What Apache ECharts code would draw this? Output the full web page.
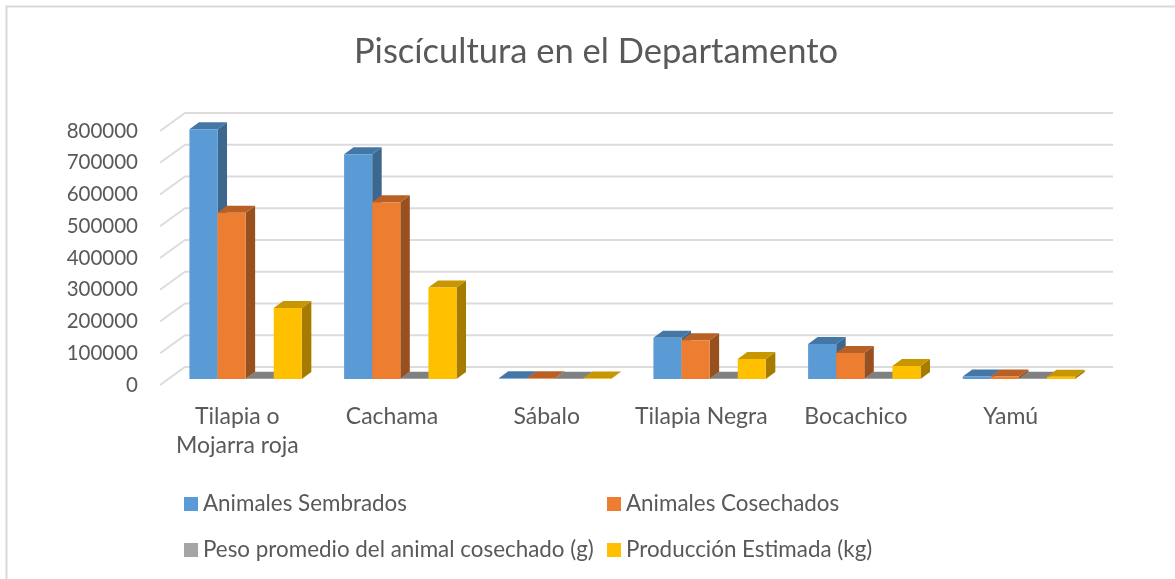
<!DOCTYPE html>
<html>
<head>
<meta charset="utf-8">
<script src="https://cdn.jsdelivr.net/npm/echarts@6/dist/echarts.min.js"></script>
<style>
html, body { margin: 0; padding: 0; background: #fff; }
#chart { width: 1175px; height: 579px; }
</style>
</head>
<body>
<div id="chart"></div>
<script>
var categories = ['Tilapia o\nMojarra roja', 'Cachama', 'Sábalo', 'Tilapia Negra', 'Bocachico', 'Yamú'];
var sembrados = [787000, 708000, 2000, 130000, 110000, 8000];
var cosechados = [524000, 557000, 2000, 122000, 82000, 8000];
var peso = [600, 600, 500, 600, 500, 500];
var produccion = [224000, 288000, 1500, 63000, 41000, 7000];
var yTicks = [0, 100000, 200000, 300000, 400000, 500000, 600000, 700000, 800000];

var FONT = 'Lato';
var TEXT = '#595959';

// caras de cada barra: frente, lado, tapa
var names = ['Animales Sembrados', 'Animales Cosechados', 'Peso promedio del animal cosechado (g)', 'Producción Estimada (kg)'];
var values = [sembrados, cosechados, peso, produccion];
var faces = [
    { front: '#5b9bd5', side: '#3c678f', top: '#4577a6' },
    { front: '#ed7d31', side: '#97501e', top: '#b86026' },
    { front: '#a5a5a5', side: '#6f6f6f', top: '#808080' },
    { front: '#ffc000', side: '#a67c00', top: '#c79600' }
];

// profundidad del piso completo y de la barra
var WALL_DX = 25, WALL_DY = 18;
var BAR_DX = 9.5, BAR_DY = 7;
var BAR_SHIFT_X = 8.3, BAR_SHIFT_Y = 6;
var BAR_FRACTION = 0.1817;

function renderWall(params, api) {
    var cs = params.coordSys;
    var y = api.coord([0, api.value(0)])[1];
    return {
        type: 'polyline',
        silent: true,
        shape: { points: [[cs.x, y], [cs.x + WALL_DX, y - WALL_DY], [cs.x + cs.width + WALL_DX, y - WALL_DY]] },
        style: { stroke: '#dcdcdc', lineWidth: 2, fill: null }
    };
}

function renderBar(index) {
    return function (params, api) {
        var cat = api.value(0);
        var w = api.size([1, 0])[0] * BAR_FRACTION;
        var top = api.coord([cat, api.value(1)]);
        var base = api.coord([cat, 0]);
        var x0 = top[0] + BAR_SHIFT_X + (index - 2) * w;
        var x1 = x0 + w;
        var y0 = top[1] - BAR_SHIFT_Y;
        var y1 = base[1] - BAR_SHIFT_Y;
        var f = faces[index];
        return {
            type: 'group',
            children: [
                {
                    type: 'polygon',
                    shape: { points: [[x1, y0], [x1 + BAR_DX, y0 - BAR_DY], [x1 + BAR_DX, y1 - BAR_DY], [x1, y1]] },
                    style: { fill: f.side }
                },
                {
                    type: 'polygon',
                    shape: { points: [[x0, y0], [x0 + BAR_DX, y0 - BAR_DY], [x1 + BAR_DX, y0 - BAR_DY], [x1, y0]] },
                    style: { fill: f.top }
                },
                {
                    type: 'rect',
                    shape: { x: x0, y: y0, width: w, height: y1 - y0 },
                    style: { fill: f.front }
                }
            ]
        };
    };
}

var series = [{
    type: 'custom',
    name: 'pared',
    silent: true,
    renderItem: renderWall,
    encode: { y: 0 },
    data: yTicks.map(function (t) { return [t]; })
}];
names.forEach(function (name, i) {
    series.push({
        type: 'custom',
        name: name,
        renderItem: renderBar(i),
        itemStyle: { color: faces[i].front },
        encode: { x: 0, y: 1 },
        data: values[i].map(function (v, c) { return [c, v]; })
    });
});

var legendPos = [[179, 488], [602, 488], [179, 534], [602, 534]];
var chart = echarts.init(document.getElementById('chart'));
chart.setOption({
    animation: false,
    title: {
        text: 'Piscícultura en el Departamento',
        left: 591,
        top: 29,
        textAlign: 'center',
        textStyle: { fontFamily: FONT, fontSize: 34.5, fontWeight: 'normal', color: TEXT }
    },
    legend: names.map(function (name, i) {
        return {
            left: legendPos[i][0],
            top: legendPos[i][1],
            data: [name],
            icon: 'rect',
            itemWidth: 14,
            itemHeight: 14,
            itemGap: 0,
            selectedMode: false,
            textStyle: { fontFamily: FONT, fontSize: 22.4, color: TEXT, padding: [0, 0, 2, 0] }
        };
    }),
    grid: { left: 160, right: 87, top: 131, bottom: 194 },
    xAxis: {
        type: 'category',
        data: categories,
        axisLine: { show: false },
        axisTick: { show: false },
        axisLabel: { interval: 0, fontFamily: FONT, fontSize: 23, color: TEXT, margin: 17, lineHeight: 29 }
    },
    yAxis: {
        type: 'value',
        min: 0,
        max: 800000,
        interval: 100000,
        splitLine: { show: false },
        axisLine: { show: false },
        axisTick: { show: false },
        axisLabel: {
            fontFamily: FONT,
            fontSize: 20.5,
            color: TEXT,
            margin: 22,
            padding: [6, 0, 0, 0],
            formatter: function (v) { return String(v); }
        }
    },
    graphic: [{
        type: 'rect',
        silent: true,
        shape: { x: 6.5, y: 6.5, width: 1200, height: 600 },
        style: { fill: null, stroke: '#d9d9d9', lineWidth: 2 }
    }],
    series: series
});
</script>
</body>
</html>
